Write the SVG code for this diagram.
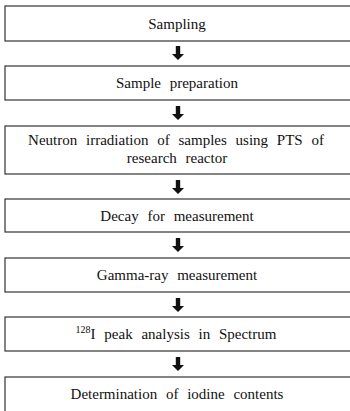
<svg xmlns="http://www.w3.org/2000/svg" width="350" height="411" viewBox="0 0 350 411">
<defs>
<style>
.box{fill:#fff;stroke:#333;stroke-width:1.2}
.t{font-size:15px;fill:#111;text-anchor:middle;word-spacing:5px}
.arr{fill:#111}
</style>
<path id="ar" d="M-2.2,0 H2.2 V8 H6 L0,14 L-6,8 H-2.2 Z"/>
</defs>
<rect width="350" height="411" fill="#fff"/>
<g id="connectors" class="arr">
<use href="#ar" x="178" y="46"/>
<use href="#ar" x="178" y="106"/>
<use href="#ar" x="178" y="180"/>
<use href="#ar" x="178" y="238"/>
<use href="#ar" x="178" y="298"/>
<use href="#ar" x="178" y="357"/>
</g>
<g id="n1"><rect class="box" x="5" y="6" width="350" height="35"/><text class="t" font-family="Liberation Serif" x="177" y="28.5">Sampling</text></g>
<g id="n2"><rect class="box" x="5" y="66" width="350" height="34"/><text class="t" font-family="Liberation Serif" x="177" y="88">Sample preparation</text></g>
<g id="n3"><rect class="box" x="5" y="126" width="350" height="48"/><text class="t" font-family="Liberation Serif" x="176" y="145">Neutron irradiation of samples using PTS of</text><text class="t" font-family="Liberation Serif" x="177" y="163">research reactor</text></g>
<g id="n4"><rect class="box" x="5" y="199" width="350" height="33"/><text class="t" font-family="Liberation Serif" x="177" y="220.5">Decay for measurement</text></g>
<g id="n5"><rect class="box" x="5" y="258" width="350" height="34"/><text class="t" font-family="Liberation Serif" x="177" y="280">Gamma-ray measurement</text></g>
<g id="n6"><rect class="box" x="5" y="317" width="350" height="34"/><text class="t" font-family="Liberation Serif" x="176" y="339"><tspan font-size="10" dy="-6">128</tspan><tspan dy="6">I peak analysis in Spectrum</tspan></text></g>
<g id="n7"><rect class="box" x="5" y="377" width="350" height="40"/><text class="t" font-family="Liberation Serif" x="177" y="399">Determination of iodine contents</text></g>
</svg>
